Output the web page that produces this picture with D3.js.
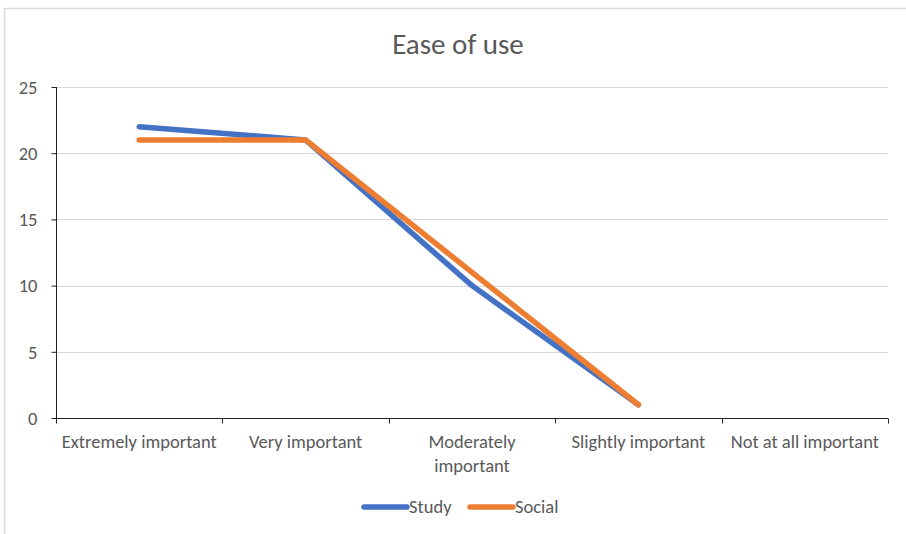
<!DOCTYPE html>
<html>
<head>
<meta charset="utf-8">
<script src="https://cdn.jsdelivr.net/npm/d3@7"></script>
<style>
body { margin: 0; background: #fff; }
svg text { font-family: Carlito, Calibri, "Liberation Sans Narrow", "Open Sans", sans-serif; fill: #595959; }
</style>
</head>
<body>
<div id="chart"></div>
<script>
// data
var categories = ["Extremely important", "Very important", "Moderately important", "Slightly important", "Not at all important"];
var study = [22, 21, 10, 1, null];
var social = [21, 21, 11, 1, null];
var yTicks = [0, 5, 10, 15, 20, 25];

var width = 906, height = 534,
	margin = {top: 87, right: 18, bottom: 116, left: 56},
	fs = "18.5px";

var svg = d3.select("#chart").append("svg")
	.attr("width", width)
	.attr("height", height);

// chart frame (only top and left edges show in the picture)
svg.append("rect")
	.attr("x", 4.5).attr("y", 8.5)
	.attr("width", 920).attr("height", 540)
	.attr("fill", "none")
	.attr("stroke", "#d9d9d9")
	.attr("stroke-width", 1.5);

var X = d3.scaleBand().domain(categories).range([margin.left, width - margin.right]);
var Y = d3.scaleLinear().domain([0, 25]).range([height - margin.bottom, margin.top]);

// title
svg.append("text")
	.attr("x", 458).attr("y", 54)
	.attr("text-anchor", "middle")
	.style("font-size", "29px")
	.text("Ease of use");

// gridlines
svg.append("g").selectAll("line").data(yTicks.filter(function(d){ return d > 0; })).enter().append("line")
	.attr("x1", margin.left).attr("x2", width - margin.right)
	.attr("y1", function(d){ return Math.round(Y(d)) + 0.5; })
	.attr("y2", function(d){ return Math.round(Y(d)) + 0.5; })
	.attr("stroke", "#d9d9d9").attr("stroke-width", 1);

// y axis
var yAxis = svg.append("g")
	.attr("transform", "translate(" + (margin.left + 0.5) + ",0)")
	.call(d3.axisLeft(Y).tickValues(yTicks).tickSize(5).tickPadding(14));
yAxis.select(".domain").attr("stroke", "#222").attr("d", "M0," + Y(25) + "V" + Y(0));
yAxis.selectAll(".tick line").attr("stroke", "#222");
yAxis.selectAll("text").style("font-size", fs).attr("fill", "#595959").attr("dy", "0.34em");

// x axis, ticks on band edges
var x0 = Math.round(Y(0)) + 0.5;
svg.append("line")
	.attr("x1", margin.left).attr("x2", width - margin.right)
	.attr("y1", x0).attr("y2", x0)
	.attr("stroke", "#222");
var edges = categories.map(function(d){ return X(d); }).concat([X.range()[1]]);
svg.append("g").selectAll("line").data(edges).enter().append("line")
	.attr("x1", function(d){ return Math.round(d) + 0.5; })
	.attr("x2", function(d){ return Math.round(d) + 0.5; })
	.attr("y1", x0).attr("y2", x0 + 5)
	.attr("stroke", "#222");

// category labels, long ones wrap
var lbl = svg.append("g").selectAll("text").data(categories).enter().append("text")
	.attr("text-anchor", "middle")
	.attr("transform", function(d){ return "translate(" + (X(d) + X.bandwidth() / 2) + ",448)"; })
	.style("font-size", fs);
lbl.each(function(d){
	var lines = d == "Moderately important" ? ["Moderately", "important"] : [d];
	d3.select(this).selectAll("tspan").data(lines).enter().append("tspan")
		.attr("x", 0).attr("dy", function(l, i){ return i ? 24 : 0; })
		.text(function(l){ return l; });
});

// lines
var line = d3.line()
	.defined(function(d){ return d != null; })
	.x(function(d, i){ return X(categories[i]) + X.bandwidth() / 2; })
	.y(function(d){ return Y(d); });

var series = [
	{name: "Study", values: study, color: "#4472C4"},
	{name: "Social", values: social, color: "#ED7D31"}
];

svg.append("g").selectAll("path").data(series).enter().append("path")
	.attr("d", function(s){ return line(s.values); })
	.attr("fill", "none")
	.attr("stroke", function(s){ return s.color; })
	.attr("stroke-width", 5.5)
	.attr("stroke-linecap", "round")
	.attr("stroke-linejoin", "round");

// legend
var leg = svg.append("g").selectAll("g").data(series).enter().append("g")
	.attr("transform", function(s, i){ return "translate(" + (364 + i * 106) + ",507)"; });
leg.append("line")
	.attr("x1", 0).attr("x2", 43)
	.attr("stroke", function(s){ return s.color; })
	.attr("stroke-width", 5.5)
	.attr("stroke-linecap", "round");
leg.append("text")
	.attr("x", 45).attr("y", 6)
	.style("font-size", fs)
	.text(function(s){ return s.name; });
</script>
</body>
</html>
